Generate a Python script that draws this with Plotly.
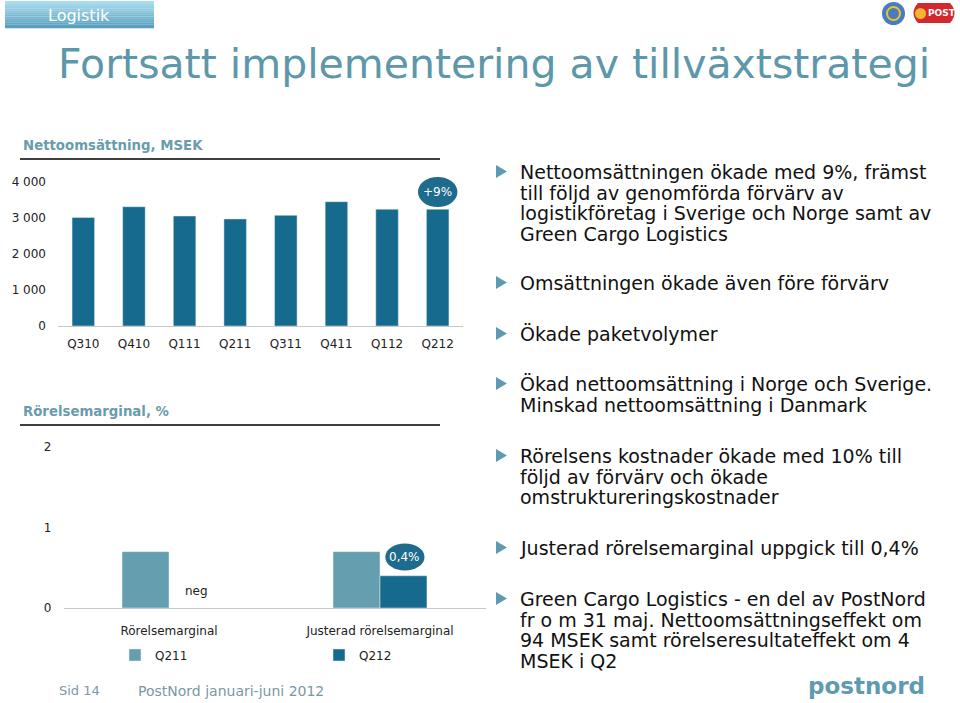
import plotly.graph_objects as go

# ---------------- data ----------------
quarters = ["Q310", "Q410", "Q111", "Q211", "Q311", "Q411", "Q112", "Q212"]
net_sales = [3020, 3320, 3060, 2980, 3080, 3460, 3250, 3250]
sales_tick_vals = [0, 1000, 2000, 3000, 4000]
sales_tick_text = ["0", "1 000", "2 000", "3 000", "4 000"]

margin_categories = ["Rörelsemarginal", "Justerad rörelsemarginal"]
margin_q211 = [0.7, 0.7]
margin_q212 = [None, 0.4]   # Q212 Rörelsemarginal negative -> shown as "neg"
margin_tick_vals = [0, 1, 2]

bullets = [
    ["Nettoomsättningen ökade med 9%, främst",
     "till följd av genomförda förvärv av",
     "logistikföretag i Sverige och Norge samt av",
     "Green Cargo Logistics"],
    ["Omsättningen ökade även före förvärv"],
    ["Ökade paketvolymer"],
    ["Ökad nettoomsättning i Norge och Sverige.",
     "Minskad nettoomsättning i Danmark"],
    ["Rörelsens kostnader ökade med 10% till",
     "följd av förvärv och ökade",
     "omstruktureringskostnader"],
    ["Justerad rörelsemarginal uppgick till 0,4%"],
    ["Green Cargo Logistics - en del av PostNord",
     "fr o m 31 maj. Nettoomsättningseffekt om",
     "94 MSEK samt rörelseresultateffekt om 4",
     "MSEK i Q2"],
]

# ---------------- layout helpers ----------------
W, H = 960, 703
def X(px):
    return px / W
def Y(py):
    return 1 - py / H

FONT = "DejaVu Sans"
DARK = "#166a8d"
LIGHT = "#659eaf"
TEAL_TXT = "#5c98aa"

fig = go.Figure()

fig.add_trace(go.Bar(x=quarters, y=net_sales, marker_color=DARK, xaxis="x", yaxis="y",
                     showlegend=False, hoverinfo="x+y"))
fig.add_trace(go.Bar(x=margin_categories, y=margin_q211, name="Q211", marker_color=LIGHT,
                     xaxis="x2", yaxis="y2", legend="legend"))
fig.add_trace(go.Bar(x=margin_categories, y=margin_q212, name="Q212", marker_color=DARK,
                     xaxis="x2", yaxis="y2", legend="legend2"))

shapes = []
annotations = []

# header box with vertical gradient
top_c = (172, 222, 241)
bot_c = (86, 158, 188)
n = 14
x0h, x1h, y0h, y1h = 5, 154, 1, 28
for i in range(n):
    t = i / (n - 1)
    c = tuple(int(top_c[k] + (bot_c[k] - top_c[k]) * t) for k in range(3))
    ya = y0h + (y1h - y0h) * i / n
    yb = y0h + (y1h - y0h) * (i + 1) / n
    shapes.append(dict(type="rect", xref="paper", yref="paper", x0=X(x0h), x1=X(x1h),
                       y0=Y(ya), y1=Y(yb) - 0.0002, fillcolor="rgb(%d,%d,%d)" % c,
                       line=dict(width=0), layer="below"))
annotations.append(dict(text="Logistik", x=X(79), y=Y(15), xref="paper", yref="paper",
                        xanchor="center", yanchor="middle", showarrow=False,
                        font=dict(family=FONT, size=16, color="white")))

# logos top right
shapes.append(dict(type="circle", xref="paper", yref="paper", x0=X(882), x1=X(905),
                   y0=Y(25), y1=Y(2), fillcolor="#4a7bbd", line=dict(width=0)))
shapes.append(dict(type="circle", xref="paper", yref="paper", x0=X(887), x1=X(900),
                   y0=Y(20), y1=Y(7), fillcolor="rgba(0,0,0,0)", line=dict(width=2, color="#e8c530")))
shapes.append(dict(type="path", xref="paper", yref="paper",
                   path="M %f,%f L %f,%f Q %f,%f %f,%f L %f,%f Q %f,%f %f,%f Z" % (
                       X(918), Y(3), X(950), Y(3), X(959), Y(13), X(950), Y(23),
                       X(918), Y(23), X(909), Y(13), X(918), Y(3)),
                   fillcolor="#d3282d", line=dict(width=0)))
shapes.append(dict(type="circle", xref="paper", yref="paper", x0=X(915), x1=X(926),
                   y0=Y(19), y1=Y(8), fillcolor="#f3b431", line=dict(width=0)))
annotations.append(dict(text="<b>POST</b>", x=X(942), y=Y(13), xref="paper", yref="paper",
                        xanchor="center", yanchor="middle", showarrow=False,
                        font=dict(family=FONT, size=9, color="white")))

# main title
annotations.append(dict(text="Fortsatt implementering av tillväxtstrategi", x=X(56), y=Y(64),
                        xref="paper", yref="paper", xanchor="left", yanchor="middle",
                        showarrow=False, font=dict(family=FONT, size=41, color=TEAL_TXT)))

# chart titles + rules
for txt, ty, ly in [("Nettoomsättning, MSEK", 146, 159), ("Rörelsemarginal, %", 411, 425)]:
    annotations.append(dict(text="<b>%s</b>" % txt, x=X(21), y=Y(ty), xref="paper", yref="paper",
                            xanchor="left", yanchor="middle", showarrow=False,
                            font=dict(family=FONT, size=13.3, color="#6a9cac")))
    shapes.append(dict(type="line", xref="paper", yref="paper", x0=X(20), x1=X(440),
                       y0=Y(ly), y1=Y(ly), line=dict(color="black", width=1.5)))

# +9% ellipse on chart 1
shapes.append(dict(type="circle", xref="x", yref="y", x0=7 - 0.39, x1=7 + 0.39,
                   y0=3310, y1=4150, fillcolor="#1f6b8e", line=dict(width=0)))
annotations.append(dict(text="+9%", x=7, y=3730, xref="x", yref="y", showarrow=False,
                        xanchor="center", yanchor="middle",
                        font=dict(family=FONT, size=12, color="white")))

# 0,4% ellipse on chart 2
shapes.append(dict(type="circle", xref="x2", yref="y2", x0=1.118 - 0.093, x1=1.118 + 0.093,
                   y0=0.634 - 0.168, y1=0.634 + 0.168, fillcolor="#1f6b8e", line=dict(width=0)))
annotations.append(dict(text="0,4%", x=1.118, y=0.634, xref="x2", yref="y2", showarrow=False,
                        xanchor="center", yanchor="middle",
                        font=dict(family=FONT, size=12, color="white")))
annotations.append(dict(text="neg", x=0.128, y=0.21, xref="x2", yref="y2", showarrow=False,
                        xanchor="center", yanchor="middle",
                        font=dict(family=FONT, size=12, color="#222222")))

# bullet text on the right
LINE_H = 20.5
bullet_y = [172, 283, 334, 384, 456, 548, 599]
for lines, by in zip(bullets, bullet_y):
    shapes.append(dict(type="path", xref="paper", yref="paper",
                       path="M %f,%f L %f,%f L %f,%f Z" % (X(496), Y(by - 7), X(496), Y(by + 6),
                                                           X(507), Y(by - 0.5)),
                       fillcolor="#5e9bb3", line=dict(width=0)))
    for j, line in enumerate(lines):
        annotations.append(dict(text=line, x=X(518), y=Y(by + j * LINE_H), xref="paper",
                                yref="paper", xanchor="left", yanchor="middle", showarrow=False,
                                font=dict(family=FONT, size=19, color="#111111")))

# footer
annotations.append(dict(text="Sid 14", x=X(57), y=Y(690), xref="paper", yref="paper",
                        xanchor="left", yanchor="middle", showarrow=False,
                        font=dict(family=FONT, size=13, color="#7a98a6")))
annotations.append(dict(text="PostNord januari-juni 2012", x=X(136), y=Y(691), xref="paper",
                        yref="paper", xanchor="left", yanchor="middle", showarrow=False,
                        font=dict(family=FONT, size=14, color="#7a98a6")))
annotations.append(dict(text="<b>postnord</b>", x=X(866), y=Y(686), xref="paper", yref="paper",
                        xanchor="center", yanchor="middle", showarrow=False,
                        font=dict(family=FONT, size=23, color="#5e9bb0")))

tick_font = dict(family=FONT, size=12, color="#222222")

fig.update_layout(
    width=W, height=H,
    margin=dict(l=0, r=0, t=0, b=0, pad=0, autoexpand=False),
    paper_bgcolor="white", plot_bgcolor="white",
    barmode="group",
    bargap=0.555, bargroupgap=0,
    showlegend=True,
    font=dict(family=FONT),
    xaxis=dict(domain=[X(58), X(463)], type="category", showline=True, linecolor="#c8c8c8",
               linewidth=1, showgrid=False, ticks="", tickfont=tick_font, ticklabelstandoff=7,
               fixedrange=True, automargin=False),
    yaxis=dict(domain=[Y(326), Y(175.1)], range=[0, 4200], tickvals=sales_tick_vals,
               ticktext=sales_tick_text, showgrid=False, zeroline=False, showline=False,
               tickfont=tick_font, ticklabelstandoff=11, fixedrange=True, automargin=False),
    xaxis2=dict(domain=[X(63.5), X(485.5)], type="category", showline=True, linecolor="#c8c8c8",
                linewidth=1, showgrid=False, ticks="", tickfont=tick_font, ticklabelstandoff=12,
                anchor="y2", fixedrange=True, automargin=False),
    yaxis2=dict(domain=[Y(608), Y(447)], range=[0, 2], tickvals=margin_tick_vals,
                showgrid=False, zeroline=False, showline=False, tickfont=tick_font,
                ticklabelstandoff=11, anchor="x2", fixedrange=True, automargin=False),
    legend=dict(x=X(115), y=Y(655), xanchor="left", yanchor="middle", orientation="h",
                font=tick_font, bgcolor="rgba(0,0,0,0)"),
    legend2=dict(x=X(319), y=Y(655), xanchor="left", yanchor="middle", orientation="h",
                 font=tick_font, bgcolor="rgba(0,0,0,0)"),
    shapes=shapes,
    annotations=annotations,
)

fig.write_html("out.html")
